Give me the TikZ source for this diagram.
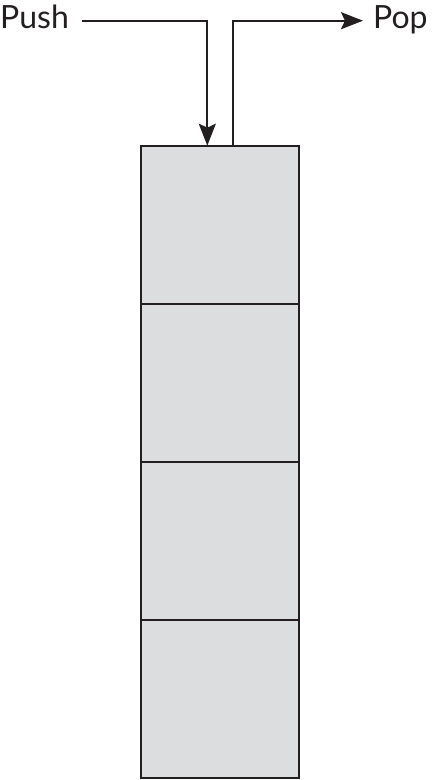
\documentclass[tikz,border=0pt]{standalone}
\usepackage{fontspec}
\setmainfont{Lato}
\usetikzlibrary{arrows.meta}
\definecolor{cellfill}{HTML}{DCDDDF}
\definecolor{ink}{HTML}{231F20}
\begin{document}
\begin{tikzpicture}[x=1pt,y=1pt,
  cell/.style={draw=ink, fill=cellfill, line width=2.4pt, minimum width=158pt, minimum height=158pt, inner sep=0pt, outer sep=0pt},
  lbl/.style={font=\fontsize{32}{38}\selectfont, text=ink, inner sep=0pt},
  arr/.style={draw=ink, line width=2pt, -{Stealth[length=22pt, width=17pt, inset=4pt]}}]
\useasboundingbox (0,0) rectangle (433,780);
\node[cell] (c4) at (220,81) {};
\node[cell] (c3) at (220,239) {};
\node[cell] (c2) at (220,397) {};
\node[cell] (c1) at (220,555) {};
\node[lbl, anchor=base west] (push) at (0,751.5) {Push};
\node[lbl, anchor=base west] (pop) at (373,751.5) {Pop};
\coordinate (pushstart) at (82,759.3);
\coordinate (pushin) at (207.3,634.3);
\coordinate (popout) at (233.3,634.3);
\coordinate (popend) at (363,759.3);
\draw[arr] (pushstart) -| (pushin);
\draw[arr] (popout) |- (popend);
\end{tikzpicture}
\end{document}
